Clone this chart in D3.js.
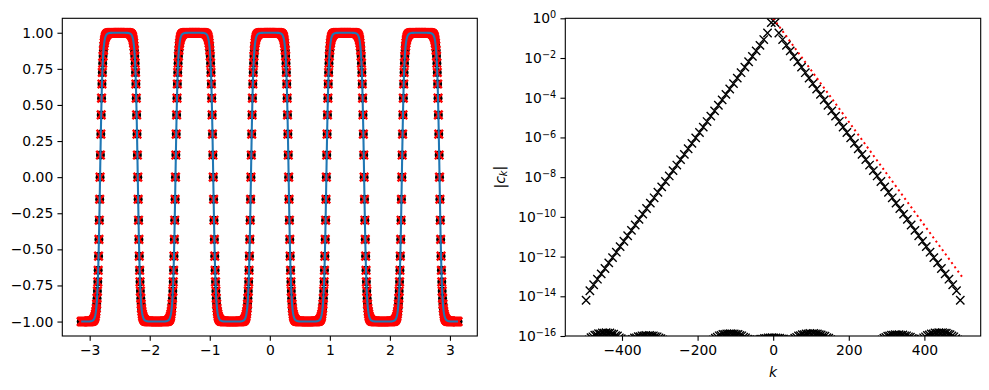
<!DOCTYPE html>
<html>
<head>
<meta charset="utf-8">
<script src="https://cdn.jsdelivr.net/npm/d3@7"></script>
<style>
  body { margin: 0; background: #fff; }
  text { font-family: "DejaVu Sans", sans-serif; }
</style>
</head>
<body>
<script>
// left panel: 1000 samples of a smooth square wave, read edge by edge
const edgeX = [-2.827, -2.199, -1.571, -0.942, -0.314, 0.314, 0.942, 1.571, 2.199, 2.827]
const edgeDir = [1, -1, 1, -1, 1, -1, 1, -1, 1, -1]
const sampleStep = 0.006283
// value at n steps from a zero crossing (n = 0..50)
const edgeProfile = [0, 0.153, 0.298, 0.431, 0.547, 0.645, 0.725, 0.789, 0.839, 0.878,
  0.908, 0.930, 0.947, 0.960, 0.970, 0.977, 0.982, 0.987, 0.990, 0.992,
  0.994, 0.995, 0.996, 0.997, 0.998, 0.998, 0.998, 0.999, 0.999, 0.999,
  0.999, 0.999, 1, 1, 1, 1, 1, 1, 1, 1, 1, 1, 1, 1, 1, 1, 1, 1, 1, 1, 1]
const xTicksL = [-3, -2, -1, 0, 1, 2, 3]
const yTicksL = [-1, -0.75, -0.5, -0.25, 0, 0.25, 0.5, 0.75, 1]

// right panel: |c_k| on a log axis
const coefK = [5, 15, 25, 35, 45, 55, 65, 75, 85, 95, 105, 115, 125, 135, 145, 155, 165, 175, 185, 195,
  205, 215, 225, 235, 245, 255, 265, 275, 285, 295, 305, 315, 325, 335, 345, 355, 365, 375, 385, 395,
  405, 415, 425, 435, 445, 455, 465, 475, 485, 495]
const coefLog10 = [-0.22, -0.74, -1.07, -1.36, -1.64, -1.92, -2.19, -2.46, -2.74, -3.01,
  -3.29, -3.56, -3.83, -4.11, -4.38, -4.66, -4.93, -5.20, -5.48, -5.75,
  -6.02, -6.30, -6.57, -6.85, -7.12, -7.39, -7.67, -7.94, -8.22, -8.49,
  -8.76, -9.04, -9.31, -9.58, -9.86, -10.13, -10.41, -10.68, -10.95, -11.23,
  -11.50, -11.78, -12.05, -12.32, -12.60, -12.87, -13.14, -13.42, -13.72, -14.2]
// round-off floor, only the part poking above 1e-16 is visible
const noiseK = [-487, -482, -477, -472, -467, -462, -457, -452, -447, -442, -437, -432, -427, -422, -417, -412, -407, -402,
  -397, -392, -387, -382, -377,
  -372, -367, -362, -357, -352, -347, -342, -337, -332, -327, -322, -317, -312, -307, -302, -297, -292,
  -158, -153, -148, -143, -138, -133, -128, -123, -118, -113, -108, -103, -98, -93, -88, -83, -78, -73, -68, -63,
  -58, -53, -48, -43,
  -38, -33, -28, -23, -18, -13, -8, -3, 2, 7, 12, 17, 22, 27, 32, 37,
  42, 47,
  52, 57, 62, 67, 72, 77, 82, 87, 92, 97, 102, 107, 112, 117, 122, 127, 132, 137, 142, 147, 152,
  288, 293, 298, 303, 308, 313, 318, 323, 328, 333, 338, 343, 348, 353, 358, 363, 368, 373, 378,
  383, 388,
  393, 398, 403, 408, 413, 418, 423, 428, 433, 438, 443, 448, 453, 458, 463, 468, 473, 478, 483, 488]
const noiseLog10 = [-16.20, -16.08, -16.04, -15.96, -15.94, -15.88, -15.89, -15.84, -15.86, -15.83, -15.86, -15.85, -15.90, -15.91, -15.98, -16.00, -16.09, -16.14,
  -16.22, -16.21, -16.23, -16.21, -16.20,
  -16.17, -16.10, -16.09, -16.03, -16.03, -15.99, -16.00, -15.97, -15.99, -15.97, -16.00, -15.99, -16.03, -16.04, -16.10, -16.13, -16.20,
  -16.20, -16.11, -16.06, -15.99, -15.97, -15.92, -15.92, -15.89, -15.90, -15.88, -15.90, -15.89, -15.92, -15.92, -15.97, -15.99, -16.06, -16.09, -16.16, -16.19,
  -16.22, -16.21, -16.22, -16.20,
  -16.20, -16.16, -16.16, -16.12, -16.12, -16.09, -16.10, -16.08, -16.10, -16.09, -16.11, -16.11, -16.15, -16.15, -16.19, -16.20,
  -16.22, -16.21,
  -16.20, -16.11, -16.07, -16.00, -15.98, -15.93, -15.93, -15.89, -15.90, -15.87, -15.89, -15.87, -15.90, -15.89, -15.93, -15.94, -15.99, -16.01, -16.08, -16.11, -16.18,
  -16.20, -16.11, -16.07, -16.01, -16.00, -15.96, -15.96, -15.93, -15.95, -15.93, -15.96, -15.95, -15.99, -15.99, -16.04, -16.06, -16.12, -16.15, -16.21,
  -16.22, -16.21,
  -16.18, -16.09, -16.04, -15.97, -15.95, -15.89, -15.89, -15.85, -15.86, -15.83, -15.85, -15.83, -15.86, -15.86, -15.91, -15.93, -16.00, -16.04, -16.13, -16.20]
const boundK = [0, 500]
const boundVal = [1, 9.4e-14]
const xTicksR = [-400, -200, 0, 200, 400]
const yExpR = [0, -2, -4, -6, -8, -10, -12, -14, -16]

const width = 989
const height = 390
const left = { x0: 62.3, x1: 477.3, y0: 18.3, y1: 336 }
const right = { x0: 565.3, x1: 980.7, y0: 18.3, y1: 336 }
const tickLen = 4.86
const fontPx = 13.9

const svg = d3.select('body').append('svg').attr('width', width).attr('height', height)

// build the sample table from the edge reading
const samples = []
edgeX.forEach((xc, i) => {
  for (let n = -50; n < 50; n++) {
    samples.push({ x: xc + n * sampleStep, y: edgeDir[i] * Math.sign(n) * edgeProfile[Math.abs(n)] })
  }
})

const xL = d3.scaleLinear().domain([-3.456, 3.456]).range([left.x0, left.x1])
const yL = d3.scaleLinear().domain([-1.1, 1.1]).range([left.y1, left.y0])

const xR = d3.scaleLinear().domain([-550, 549]).range([right.x0, right.x1])
const yR = d3.scaleLog().domain([1e-16, 1]).range([right.y1, right.y0])

const xMark = (a) => `M${-a},${-a}L${a},${a}M${-a},${a}L${a},${-a}`

// ---- left panel
const gL = svg.append('g')
gL.append('g')
  .selectAll('circle')
  .data(samples)
  .join('circle')
  .attr('cx', (d) => xL(d.x))
  .attr('cy', (d) => yL(d.y))
  .attr('r', 4.5)
  .attr('fill', '#000')
gL.append('g')
  .selectAll('path')
  .data(samples)
  .join('path')
  .attr('transform', (d) => `translate(${xL(d.x)},${yL(d.y)})`)
  .attr('d', xMark(4.2))
  .attr('stroke', 'red')
  .attr('stroke-width', 2.4)
  .attr('fill', 'none')
gL.append('path')
  .datum(samples)
  .attr('d', d3.line().x((d) => xL(d.x)).y((d) => yL(d.y)))
  .attr('fill', 'none')
  .attr('stroke', '#1f77b4')
  .attr('stroke-width', 2.08)

const axL = gL.append('g').attr('transform', `translate(0,${left.y1})`)
  .call(d3.axisBottom(xL).tickValues(xTicksL).tickFormat(d3.format('d')).tickSize(tickLen).tickPadding(4.2).tickSizeOuter(0))
const ayL = gL.append('g').attr('transform', `translate(${left.x0},0)`)
  .call(d3.axisLeft(yL).tickValues(yTicksL).tickFormat(d3.format('.2f')).tickSize(tickLen).tickPadding(4.2).tickSizeOuter(0))

// ---- right panel
svg.append('clipPath').attr('id', 'clipR')
  .append('rect')
  .attr('x', right.x0).attr('y', right.y0)
  .attr('width', right.x1 - right.x0).attr('height', right.y1 - right.y0)

const coefPts = []
coefK.forEach((k, i) => {
  coefPts.push({ k: k, v: Math.pow(10, coefLog10[i]) })
  coefPts.push({ k: -k, v: Math.pow(10, coefLog10[i]) })
})
noiseK.forEach((k, i) => coefPts.push({ k: k, v: Math.pow(10, noiseLog10[i]) }))

const gR = svg.append('g')
const plotR = gR.append('g').attr('clip-path', 'url(#clipR)')
plotR.selectAll('path.mk')
  .data(coefPts)
  .join('path')
  .attr('class', 'mk')
  .attr('transform', (d) => `translate(${xR(d.k)},${yR(d.v)})`)
  .attr('d', xMark(4.17))
  .attr('stroke', '#000')
  .attr('stroke-width', 1.39)
  .attr('fill', 'none')

plotR.append('path')
  .datum(boundK.map((k, i) => ({ k: k, v: boundVal[i] })))
  .attr('d', d3.line().x((d) => xR(d.k)).y((d) => yR(d.v)))
  .attr('fill', 'none')
  .attr('stroke', 'red')
  .attr('stroke-width', 2)
  .attr('stroke-dasharray', '2,3.3')

const axR = gR.append('g').attr('transform', `translate(0,${right.y1})`)
  .call(d3.axisBottom(xR).tickValues(xTicksR).tickFormat(d3.format('d')).tickSize(tickLen).tickPadding(4.2).tickSizeOuter(0))
const ayR = gR.append('g').attr('transform', `translate(${right.x0},0)`)
  .call(d3.axisLeft(yR).tickValues(yExpR.map((e) => Math.pow(10, e))).tickFormat('').tickSize(tickLen).tickSizeOuter(0))

// 10^e labels built from tspans
ayR.selectAll('.tick').each(function (d, i) {
  const e = yExpR[i]
  const t = d3.select(this).append('text')
    .attr('x', -tickLen - 4.2)
    .attr('dy', '0.32em')
    .attr('text-anchor', 'end')
    .attr('fill', '#000')
    .style('font-size', fontPx + 'px')
  t.append('tspan').text('10')
  t.append('tspan')
    .attr('dy', '-0.5em')
    .style('font-size', '9.7px')
    .text(e === 0 ? '0' : '\u2212' + Math.abs(e))
})

// common styling of axes
;[axL, ayL, axR, ayR].forEach((a) => {
  a.select('.domain').remove()
  a.selectAll('.tick line').attr('stroke', '#000').attr('stroke-width', 1.1)
  a.selectAll('text').style('font-size', fontPx + 'px').attr('fill', '#000')
})
ayR.selectAll('tspan:nth-child(2)').style('font-size', '9.7px')

;[left, right].forEach((b) => {
  svg.append('rect')
    .attr('x', b.x0).attr('y', b.y0)
    .attr('width', b.x1 - b.x0).attr('height', b.y1 - b.y0)
    .attr('fill', 'none')
    .attr('stroke', '#000')
    .attr('stroke-width', 1.1)
})

// axis titles
svg.append('text')
  .attr('x', (right.x0 + right.x1) / 2)
  .attr('y', 377)
  .attr('text-anchor', 'middle')
  .style('font-size', fontPx + 'px')
  .style('font-style', 'italic')
  .text('k')

const yl = svg.append('text')
  .attr('transform', `translate(505,${(right.y0 + right.y1) / 2}) rotate(-90)`)
  .attr('text-anchor', 'middle')
  .style('font-size', fontPx + 'px')
yl.append('tspan').text('|')
yl.append('tspan').style('font-style', 'italic').text('c')
yl.append('tspan').style('font-style', 'italic').style('font-size', '9.7px').attr('dy', '0.25em').text('k')
yl.append('tspan').attr('dy', '-0.25em').text('|')
</script>
</body>
</html>
